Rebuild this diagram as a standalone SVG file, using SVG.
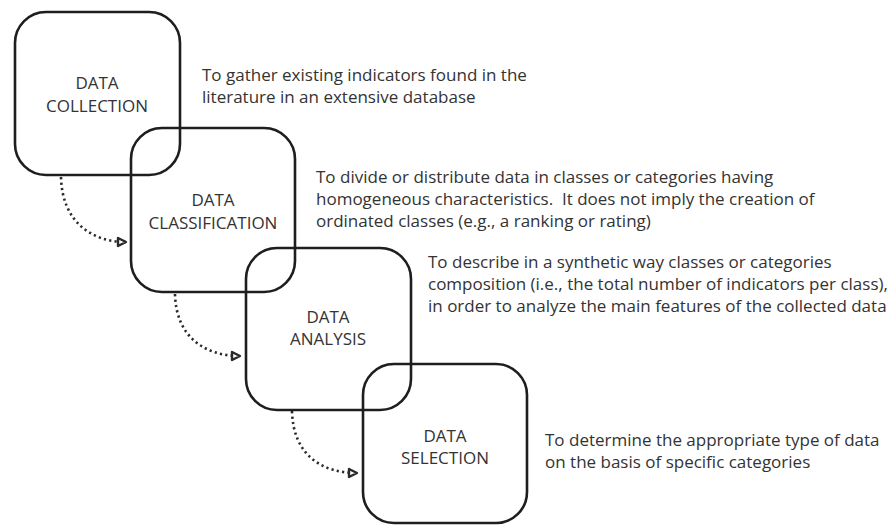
<svg xmlns="http://www.w3.org/2000/svg" width="894" height="525" viewBox="0 0 894 525">
<style>
.box{fill:none;stroke:#1e1e1e;stroke-width:2.6}
.lbl{font-family:"Open Sans","Noto Sans",sans-serif;font-size:17px;fill:#333;text-anchor:middle}
.desc{font-family:"Open Sans","Noto Sans",sans-serif;font-size:17px;fill:#333}
.con{fill:none;stroke:#2a2a2a;stroke-width:2.6;stroke-dasharray:2.2 3.2}
</style>
<defs>
<marker id="ah" markerWidth="14" markerHeight="14" refX="10" refY="6" orient="auto" markerUnits="userSpaceOnUse">
<path d="M2,2 L10,6 L2,10 Z" fill="#fff" stroke="#2a2a2a" stroke-width="2.4" stroke-linejoin="round"/>
</marker>
</defs>
<rect width="894" height="525" fill="#fff"/>
<g id="connectors">
<path class="con" d="M61,177 C62,222 92,242 126,242" marker-end="url(#ah)"/>
<path class="con" d="M175,294 C176,338 206,356 240,356" marker-end="url(#ah)"/>
<path class="con" d="M292,411 C293,455 322,473 357,473" marker-end="url(#ah)"/>
</g>
<g id="n1">
<rect class="box" x="15" y="12" width="165" height="163" rx="31"/>
<text class="lbl" x="97" y="89">DATA</text>
<text class="lbl" x="97" y="112">COLLECTION</text>
<text class="desc" x="202" y="81">To gather existing indicators found in the</text>
<text class="desc" x="202" y="103">literature in an extensive database</text>
</g>
<g id="n2">
<rect class="box" x="131" y="128" width="164" height="164" rx="31"/>
<text class="lbl" x="213" y="206">DATA</text>
<text class="lbl" x="213" y="229">CLASSIFICATION</text>
<text class="desc" x="316" y="183">To divide or distribute data in classes or categories having</text>
<text class="desc" x="316" y="205" xml:space="preserve">homogeneous characteristics.  It does not imply the creation of</text>
<text class="desc" x="316" y="227">ordinated classes (e.g., a ranking or rating)</text>
</g>
<g id="n3">
<rect class="box" x="246" y="248" width="165" height="162" rx="31"/>
<text class="lbl" x="328" y="323">DATA</text>
<text class="lbl" x="328" y="345">ANALYSIS</text>
<text class="desc" x="428" y="268">To describe in a synthetic way classes or categories</text>
<text class="desc" x="428" y="290">composition (i.e., the total number of indicators per class),</text>
<text class="desc" x="428" y="312">in order to analyze the main features of the collected data</text>
</g>
<g id="n4">
<rect class="box" x="363" y="364" width="164" height="159" rx="31"/>
<text class="lbl" x="445" y="442">DATA</text>
<text class="lbl" x="445" y="464">SELECTION</text>
<text class="desc" x="545" y="446">To determine the appropriate type of data</text>
<text class="desc" x="545" y="468">on the basis of specific categories</text>
</g>
</svg>
